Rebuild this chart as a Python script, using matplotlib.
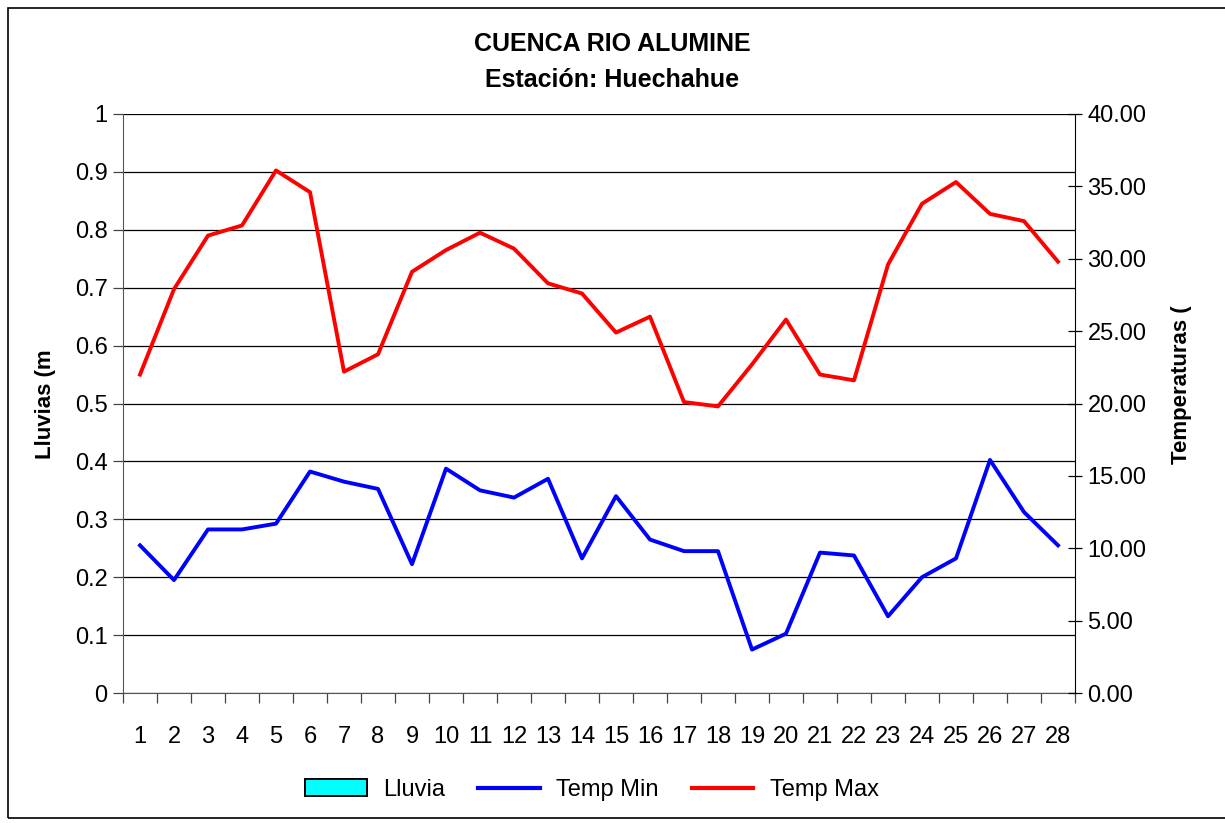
import matplotlib
matplotlib.use("Agg")
import matplotlib.pyplot as plt
from matplotlib.patches import Rectangle, Patch
from matplotlib.lines import Line2D

plt.rcParams['font.family'] = ['Liberation Sans', 'DejaVu Sans']

days = list(range(1, 29))
lluvia = [0] * 28
temp_min = [10.2, 7.8, 11.3, 11.3, 11.7, 15.3, 14.6, 14.1, 8.9, 15.5, 14.0, 13.5, 14.8, 9.3,
            13.6, 10.6, 9.8, 9.8, 3.0, 4.1, 9.7, 9.5, 5.3, 8.0, 9.3, 16.1, 12.5, 10.2]
temp_max = [22.0, 27.9, 31.6, 32.3, 36.1, 34.6, 22.2, 23.4, 29.1, 30.6, 31.8, 30.7, 28.3, 27.6,
            24.9, 26.0, 20.1, 19.8, 22.7, 25.8, 22.0, 21.6, 29.6, 33.8, 35.3, 33.1, 32.6, 29.8]
left_ticks = [0, 0.1, 0.2, 0.3, 0.4, 0.5, 0.6, 0.7, 0.8, 0.9, 1]
left_labels = ['0', '0.1', '0.2', '0.3', '0.4', '0.5', '0.6', '0.7', '0.8', '0.9', '1']
right_ticks = [0, 5, 10, 15, 20, 25, 30, 35, 40]

W, H = 1225, 823
fig = plt.figure(figsize=(W / 100, H / 100), dpi=100)
fig.patches.append(Rectangle((8 / W, 5 / H), 1.2, 1 - 13 / H, transform=fig.transFigure,
                             fill=False, edgecolor='black', linewidth=1.2))

ax = fig.add_axes([123 / W, 1 - 693 / H, (1075 - 123) / W, (693 - 114) / H])
ax.bar(days, lluvia, width=0.6, color='#00FFFF', edgecolor='none')
ax.set_xlim(0.5, 28.5)
ax.set_ylim(0, 1)
ax.set_yticks(left_ticks)
ax.set_yticklabels(left_labels)
ax.yaxis.grid(True, color='black', linewidth=0.9)
ax.set_axisbelow(True)
ax.set_xticks([d + 0.5 for d in [0] + days])
ax.set_xticklabels([])
ax.set_xticks(days, minor=True)
ax.set_xticklabels([str(d) for d in days], minor=True)
ax.tick_params(axis='x', which='major', direction='out', length=7, width=0.9, color='#444444')
ax.tick_params(axis='x', which='minor', length=0, pad=24, labelsize=17)
ax.tick_params(axis='y', direction='out', length=7, width=0.9, labelsize=17, pad=4, color='#444444')
ax.spines['top'].set_visible(False)
ax.spines['right'].set_visible(False)
ax.spines['left'].set_color('#555555')
ax.spines['bottom'].set_color('#555555')
ax.set_ylabel('Lluvias (m', fontsize=16, fontweight='bold')
ax.yaxis.set_label_coords((56 - 123) / 952, (693 - 404) / 579)

ax2 = ax.twinx()
ax2.plot(days, temp_min, color='#0000FF', linewidth=2.8)
ax2.plot(days, temp_max, color='#FF0000', linewidth=2.8)
ax2.set_ylim(0, 40)
ax2.set_yticks(right_ticks)
ax2.set_yticklabels([f'{v:.2f}' for v in right_ticks])
ax2.tick_params(axis='y', direction='inout', length=10, width=0.9, labelsize=17, pad=4)
for s in ['top', 'left', 'bottom']:
    ax2.spines[s].set_visible(False)
ax2.spines['right'].set_color('black')
ax2.set_ylabel('Temperaturas (', fontsize=16, fontweight='bold')
ax2.yaxis.set_label_coords((1171 - 123) / 952, (693 - 385) / 579)

fig.text(0.5, 1 - 44 / H, 'CUENCA RIO ALUMINE', ha='center', va='center', fontsize=18, fontweight='bold')
fig.text(0.5, 1 - 80 / H, 'Estación: Huechahue', ha='center', va='center', fontsize=18, fontweight='bold')

handles = [Patch(facecolor='#00FFFF', edgecolor='black', linewidth=1.4),
           Line2D([], [], color='#0000FF', linewidth=3),
           Line2D([], [], color='#FF0000', linewidth=3)]
fig.legend(handles, ['Lluvia', 'Temp Min', 'Temp Max'], loc='center', bbox_to_anchor=(592 / W, 1 - 790 / H),
           ncol=3, frameon=False, fontsize=17, handlelength=2.6, handletextpad=0.7, columnspacing=1.4)

fig.savefig('out.png', dpi=100)
